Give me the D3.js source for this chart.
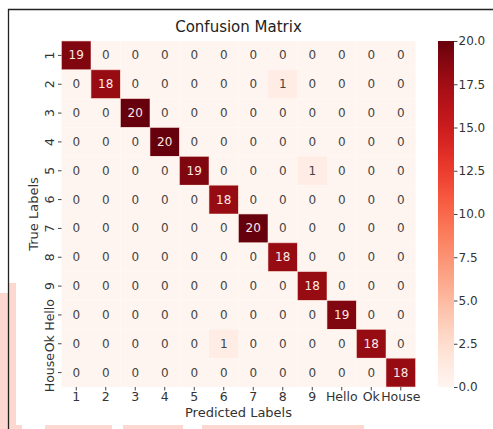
<!DOCTYPE html>
<html><head><meta charset="utf-8">
<script src="https://cdn.jsdelivr.net/npm/d3@7"></script>
<style>body{margin:0;background:#fff;}svg{display:block;font-family:"DejaVu Sans",sans-serif;}</style>
</head><body><svg id="c" width="493" height="429"></svg>
<script>
const labels = ["1","2","3","4","5","6","7","8","9","Hello","Ok","House"];
const matrix = [
 [19,0,0,0,0,0,0,0,0,0,0,0],
 [0,18,0,0,0,0,0,1,0,0,0,0],
 [0,0,20,0,0,0,0,0,0,0,0,0],
 [0,0,0,20,0,0,0,0,0,0,0,0],
 [0,0,0,0,19,0,0,0,1,0,0,0],
 [0,0,0,0,0,18,0,0,0,0,0,0],
 [0,0,0,0,0,0,20,0,0,0,0,0],
 [0,0,0,0,0,0,0,18,0,0,0,0],
 [0,0,0,0,0,0,0,0,18,0,0,0],
 [0,0,0,0,0,0,0,0,0,19,0,0],
 [0,0,0,0,0,1,0,0,0,0,18,0],
 [0,0,0,0,0,0,0,0,0,0,0,18]
];
const cbTicks = [0,2.5,5,7.5,10,12.5,15,17.5,20];

const svg = d3.select("#c");
// watermark-like background patches
const bg = [[0,293,8,136],[8,283,8,146],[16,425,6,4],[45,425,67,4],[123,425,60,4],[202,425,162,4]];
svg.selectAll("rect.bg").data(bg).join("rect").attr("class","bg")
  .attr("x",d=>d[0]).attr("y",d=>d[1]).attr("width",d=>d[2]).attr("height",d=>d[3]).attr("fill","#fcd8d0");
// frame
svg.append("path").attr("d","M8.5,429V9.5H493").attr("fill","none").attr("stroke","#222").attr("stroke-width",1.3);

const L=61.5, R=415.5, T=41, B=387;
const x = d3.scaleBand().domain(labels).range([L,R]);
const y = d3.scaleBand().domain(labels).range([T,B]);
const color = d3.scaleSequential(d3.interpolateReds).domain([0,20]);

const cells = [];
matrix.forEach((row,i)=>row.forEach((v,j)=>cells.push({r:labels[i],c:labels[j],v})));
const g = svg.append("g");
g.selectAll("rect").data(cells).join("rect")
  .attr("x",d=>x(d.c)).attr("y",d=>y(d.r)).attr("width",x.bandwidth()).attr("height",y.bandwidth())
  .attr("fill",d=>color(d.v)).attr("stroke",d=>d.v>=10?"#f4cfc6":"none").attr("stroke-width",0.6);
g.selectAll("text").data(cells).join("text")
  .attr("x",d=>x(d.c)+x.bandwidth()/2).attr("y",d=>y(d.r)+y.bandwidth()/2)
  .attr("text-anchor","middle").attr("dominant-baseline","central")
  .attr("font-size","12px").attr("fill",d=>d.v>=10?"#fbe9e4":"#444").text(d=>d.v);

// axes
const xAxis = svg.append("g").attr("transform",`translate(0,${B})`).call(d3.axisBottom(x).tickSize(3.5).tickPadding(2));
const yAxis = svg.append("g").attr("transform",`translate(${L},0)`).call(d3.axisLeft(y).tickSize(3.5).tickPadding(3));
[xAxis,yAxis].forEach(a=>{a.select(".domain").remove();a.selectAll("line").attr("stroke","#444");
  a.selectAll("text").attr("font-size","12.5px").attr("fill","#333").attr("font-family","DejaVu Sans");});
yAxis.selectAll(".tick text").attr("text-anchor","middle").attr("dy",null).attr("dominant-baseline","central")
  .attr("transform","translate(-12,0) rotate(-90)").attr("x",0);

svg.append("text").attr("x",(L+R)/2).attr("y",412).attr("text-anchor","middle").attr("dominant-baseline","central")
  .attr("font-size","13px").attr("fill","#333").text("Predicted Labels");
svg.append("text").attr("transform",`translate(33,${(T+B)/2}) rotate(-90)`).attr("text-anchor","middle").attr("dominant-baseline","central")
  .attr("font-size","13px").attr("fill","#333").text("True Labels");
svg.append("text").attr("x",(L+R)/2).attr("y",32).attr("text-anchor","middle")
  .attr("font-size","15px").attr("fill","#222").text("Confusion Matrix");

// colorbar
const cbX=438, cbW=16;
const cy = d3.scaleLinear().domain([0,20]).range([B,T]);
const defs = svg.append("defs");
const grad = defs.append("linearGradient").attr("id","cbg").attr("x1",0).attr("y1",1).attr("x2",0).attr("y2",0);
d3.range(0,1.001,0.05).forEach(t=>grad.append("stop").attr("offset",t).attr("stop-color",color(t*20)));
svg.append("rect").attr("x",cbX).attr("y",T).attr("width",cbW).attr("height",B-T).attr("fill","url(#cbg)");
const cbAxis = svg.append("g").attr("transform",`translate(${cbX+cbW},0)`)
  .call(d3.axisRight(cy).tickValues(cbTicks).tickFormat(d3.format(".1f")).tickSize(3.5).tickPadding(1));
cbAxis.select(".domain").remove();
cbAxis.selectAll("line").attr("stroke","#444");
cbAxis.selectAll("text").attr("font-size","12px").attr("fill","#333").attr("font-family","DejaVu Sans");
</script></body></html>
